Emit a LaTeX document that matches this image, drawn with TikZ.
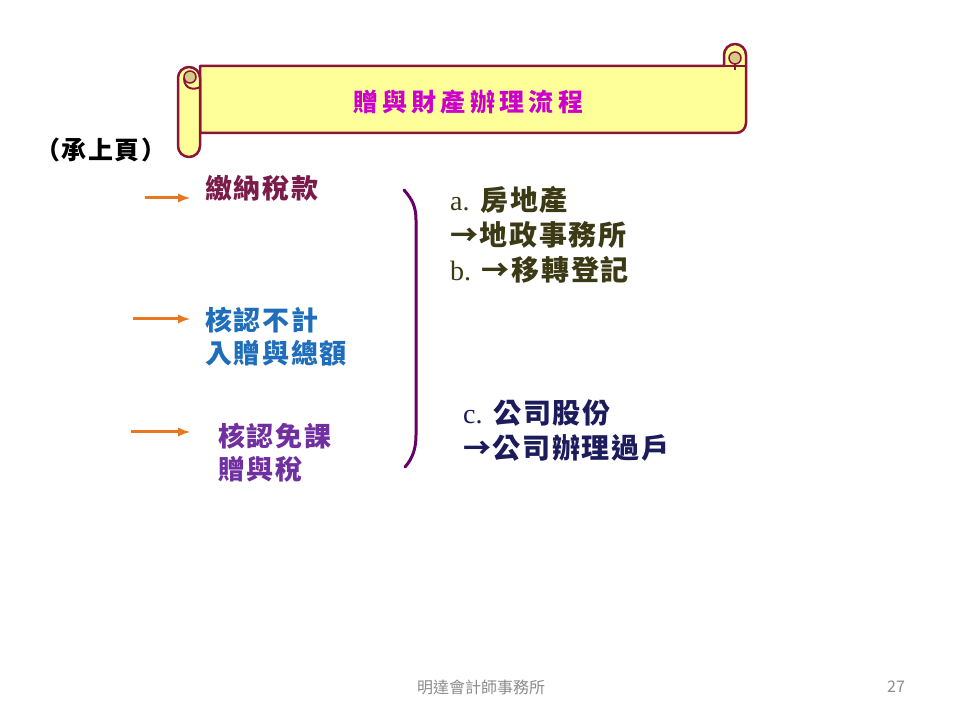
\documentclass[tikz,border=0pt]{standalone}
\usepackage{fontspec}
\usepackage{tikz}
\newfontfamily\cjk[LetterSpace=6]{Noto Sans CJK TC}
\newfontfamily\cjkplain{Noto Sans CJK TC}
\newfontfamily\lat{Liberation Serif}
\definecolor{scrollyellow}{HTML}{FFFF99}
\definecolor{scrollred}{HTML}{8B1538}
\definecolor{curltan}{HTML}{D6C98A}
\definecolor{titlemag}{HTML}{CC00CC}
\definecolor{paycol}{HTML}{7A1B4A}
\definecolor{bluecol}{HTML}{1F6EBB}
\definecolor{purplecol}{HTML}{7030A0}
\definecolor{olivecol}{HTML}{3C3A14}
\definecolor{navycol}{HTML}{1C1C5C}
\definecolor{bracecol}{HTML}{660066}
\definecolor{arrowcol}{HTML}{E87722}
\definecolor{footgray}{HTML}{8C8C8C}
\tikzset{
  scroll/.style={fill=scrollyellow, draw=scrollred, line width=2.5pt, line join=round},
  curl/.style={fill=curltan, draw=scrollred, line width=1.5pt},
  item/.style={anchor=west, inner sep=0pt, align=left, font=\cjk\bfseries\fontsize{27}{33}\selectfont},
  side/.style={anchor=west, inner sep=0pt, align=left, font=\cjk\bfseries\fontsize{28}{35}\selectfont},
  arr/.style={-latex, arrowcol, line width=3pt},
  foot/.style={footgray, inner sep=0pt, font=\cjkplain\fontsize{16}{18}\selectfont}
}
\begin{document}
\begin{tikzpicture}[x=1pt, y=1pt]
\useasboundingbox[fill=white] (0,0) rectangle (960,720);

% Scroll banner
\filldraw[scroll] (200,654) -- (724,654) -- (724,665) arc (180:0:11) -- (746,597) arc (0:-90:10) -- (200,587) -- cycle;
\filldraw[curl] (735,662) circle (6);
\draw[scrollred, line width=1.5pt] (735,656) -- (735,650);
\draw[scrollred, line width=2.5pt] (724,654) -- (746,654);
\filldraw[scroll] (178,642) -- (178,574) arc (180:360:11) -- (200,642) arc (0:180:11) -- cycle;
\filldraw[curl] (190,643) circle (6);
\draw[scrollred, line width=2pt] (184,642) .. controls (184,630) and (195,630) .. (200,633);
\node[titlemag, inner sep=0pt, font=\cjkplain\bfseries\fontsize{25}{28}\selectfont, text width=230pt, align=justify] (title) at (468,618) {贈\hfill 與\hfill 財\hfill 產\hfill 辦\hfill 理\hfill 流\hfill 程};

% Previous page note
\node[anchor=west, inner sep=0pt, font=\cjk\bfseries\fontsize{25}{28}\selectfont] (prev) at (35,570) {（承上頁）};

% Left items
\node[item, paycol] (pay) at (205,532) {繳納稅款};
\node[item, bluecol] (exclude) at (205,383) {核認不計\\入贈與總額};
\node[item, purplecol] (exempt) at (218,267) {核認免課\\贈與稅};

% Arrows
\coordinate (a1) at (145,522);
\coordinate (a2) at (133,401);
\coordinate (a3) at (131,288);
\draw[arr, shorten >=15pt] (a1) -- (a1 -| pay.west);
\draw[arr, shorten >=15pt] (a2) -- (a2 -| exclude.west);
\draw[arr, shorten >=28pt] (a3) -- (a3 -| exempt.west);

% Bracket
\draw[bracecol, line width=3pt, line cap=round] (404,530) .. controls (413,520) and (416,512) .. (416,500) -- (416,285) .. controls (416,272) and (413,262) .. (405,253);

% Right side
\node[side, olivecol] (estate) at (450,485) {{\lat\mdseries a.} 房地產\\→地政事務所\\{\lat\mdseries b.} →移轉登記};
\node[side, navycol] (shares) at (463,289) {{\lat\mdseries c.} 公司股份\\→公司辦理過戶};

% Footer
\node[foot] (firm) at (481,33) {明達會計師事務所};
\node[foot] (page) at (896,33) {27};
\end{tikzpicture}
\end{document}
